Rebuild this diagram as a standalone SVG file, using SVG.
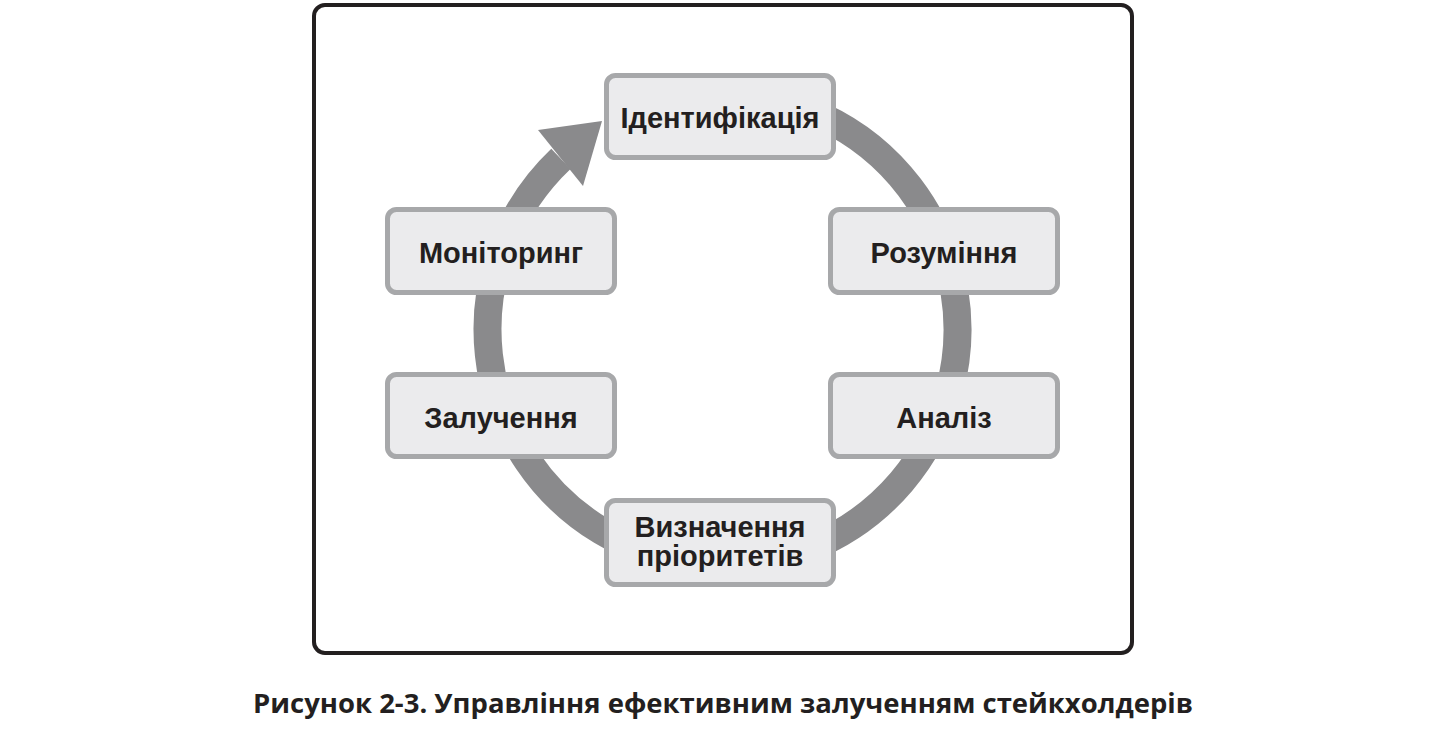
<svg xmlns="http://www.w3.org/2000/svg" width="1434" height="734" viewBox="0 0 1434 734">
<style>
.box{fill:#ebebed;stroke:#a7a8aa;stroke-width:5}
.lbl{font-family:"Liberation Sans",Arial,sans-serif;font-weight:bold;font-size:29px;fill:#231f20;text-anchor:middle}
.cap{font-family:"Open Sans","Noto Sans",sans-serif;font-weight:bold;font-size:26px;fill:#231f20;text-anchor:middle}
</style>
<rect width="1434" height="734" fill="#ffffff"/>
<rect x="314" y="5" width="818" height="648" rx="11" fill="#ffffff" stroke="#231f20" stroke-width="4"/>
<g id="connectors">
<path d="M722.5 94.5 A235 235 0 1 1 560.9 158.9" fill="none" stroke="#8a8a8c" stroke-width="28"/>
<polygon points="602,121 538,130 583,186" fill="#8a8a8c"/>
</g>
<g id="n1"><rect class="box" x="606.5" y="75.5" width="227" height="82" rx="9"/><text class="lbl" x="720" y="128">Ідентифікація</text></g>
<g id="n2"><rect class="box" x="830.5" y="209.5" width="227" height="83" rx="9"/><text class="lbl" x="944" y="263">Розуміння</text></g>
<g id="n3"><rect class="box" x="830.5" y="374.5" width="227" height="82" rx="9"/><text class="lbl" x="944" y="428">Аналіз</text></g>
<g id="n4"><rect class="box" x="606.5" y="500.5" width="227" height="84" rx="9"/><text class="lbl" x="720" y="537">Визначення</text><text class="lbl" x="720" y="566">пріоритетів</text></g>
<g id="n5"><rect class="box" x="387.5" y="374.5" width="227" height="82" rx="9"/><text class="lbl" x="501" y="428">Залучення</text></g>
<g id="n6"><rect class="box" x="387.5" y="209.5" width="227" height="83" rx="9"/><text class="lbl" x="501" y="263">Моніторинг</text></g>
<text class="cap" x="723" y="713" textLength="940" lengthAdjust="spacingAndGlyphs">Рисунок 2-3. Управління ефективним залученням стейкхолдерів</text>
</svg>
